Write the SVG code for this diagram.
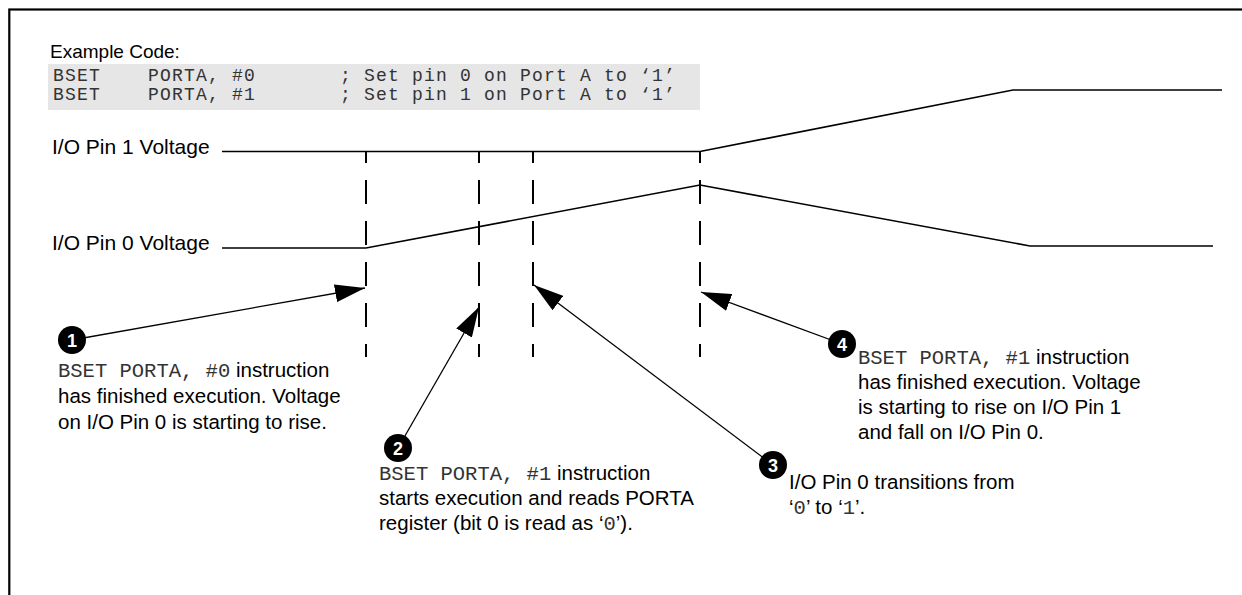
<svg xmlns="http://www.w3.org/2000/svg" width="1242" height="595" viewBox="0 0 1242 595">
<style>
.sans{font-family:"Liberation Sans",Arial,sans-serif;font-size:20.5px;fill:#000}
.lbl{font-family:"Liberation Sans",Arial,sans-serif;font-size:21px;fill:#000}
.mono{font-family:"Liberation Mono","Courier New",monospace;fill:#333}
.code{font-family:"Liberation Mono","Courier New",monospace;font-size:18px;letter-spacing:1.2px;fill:#333}
.sig{fill:none;stroke:#000;stroke-width:1.6}
.dash{stroke:#000;stroke-width:2;stroke-dasharray:24 17;stroke-dashoffset:13}
.lead{stroke:#000;stroke-width:1.3;fill:none}
.num circle{fill:#000}
.num text{font-family:"Liberation Sans",Arial,sans-serif;font-weight:bold;font-size:18px;fill:#fff;text-anchor:middle}
</style>
<defs>
<marker id="ah" markerUnits="userSpaceOnUse" markerWidth="32" markerHeight="18" refX="30" refY="9" orient="auto">
<path d="M0,0 L30,9 L0,18 Z" fill="#000"/>
</marker>
</defs>
<rect x="0" y="0" width="1242" height="595" fill="#fff"/>
<rect id="frame" x="9.3" y="9.5" width="1300" height="700" fill="none" stroke="#000" stroke-width="2.2"/>

<g id="code">
<text class="lbl" x="50" y="58" style="font-size:19px">Example Code:</text>
<rect x="48" y="64" width="652" height="46" fill="#e6e6e6"/>
<text class="code" y="81"><tspan x="53">BSET</tspan><tspan x="148">PORTA, #0</tspan><tspan x="340">; Set pin 0 on Port A to ‘1’</tspan></text>
<text class="code" y="100"><tspan x="53">BSET</tspan><tspan x="148">PORTA, #1</tspan><tspan x="340">; Set pin 1 on Port A to ‘1’</tspan></text>
</g>

<g id="pin1">
<text class="lbl" x="52" y="154">I/O Pin 1 Voltage</text>
<polyline class="sig" points="222,151.5 700,151.5 1013,90 1222,90"/>
</g>
<g id="pin0">
<text class="lbl" x="52" y="250">I/O Pin 0 Voltage</text>
<polyline class="sig" points="222,248 366,248 700,185 1030,246 1213,246"/>
</g>

<g id="markers">
<line class="dash" x1="366" y1="152" x2="366" y2="357"/>
<line class="dash" x1="479" y1="152" x2="479" y2="357"/>
<line class="dash" x1="533" y1="152" x2="533" y2="357"/>
<line class="dash" x1="700" y1="152" x2="700" y2="357"/>
</g>

<g id="connectors">
<line class="lead" x1="72" y1="340" x2="365" y2="288" marker-end="url(#ah)"/>
<line class="lead" x1="398" y1="448" x2="479" y2="307" marker-end="url(#ah)"/>
<line class="lead" x1="773" y1="465" x2="534" y2="285" marker-end="url(#ah)"/>
<line class="lead" x1="842" y1="344" x2="701" y2="292" marker-end="url(#ah)"/>
</g>

<g id="note1">
<g class="num"><circle cx="72" cy="340" r="14"/><text x="72" y="346.5">1</text></g>
<text class="sans" x="58" y="377"><tspan class="mono">BSET PORTA, #0</tspan> instruction</text>
<text class="sans" x="58" y="403">has finished execution. Voltage</text>
<text class="sans" x="58" y="429">on I/O Pin 0 is starting to rise.</text>
</g>

<g id="note2">
<g class="num"><circle cx="398" cy="448" r="14"/><text x="398" y="454.5">2</text></g>
<text class="sans" x="379" y="480"><tspan class="mono">BSET PORTA, #1</tspan> instruction</text>
<text class="sans" x="379" y="505">starts execution and reads PORTA</text>
<text class="sans" x="379" y="530">register (bit 0 is read as ‘<tspan class="mono">0</tspan>’).</text>
</g>

<g id="note3">
<g class="num"><circle cx="773" cy="465" r="14"/><text x="773" y="471.5">3</text></g>
<text class="sans" x="789" y="489">I/O Pin 0 transitions from</text>
<text class="sans" x="789" y="514">‘<tspan class="mono">0</tspan>’ to ‘<tspan class="mono">1</tspan>’.</text>
</g>

<g id="note4">
<g class="num"><circle cx="842" cy="344" r="14"/><text x="842" y="350.5">4</text></g>
<text class="sans" x="858" y="364"><tspan class="mono">BSET PORTA, #1</tspan> instruction</text>
<text class="sans" x="858" y="389">has finished execution. Voltage</text>
<text class="sans" x="858" y="414">is starting to rise on I/O Pin 1</text>
<text class="sans" x="858" y="439">and fall on I/O Pin 0.</text>
</g>
</svg>
